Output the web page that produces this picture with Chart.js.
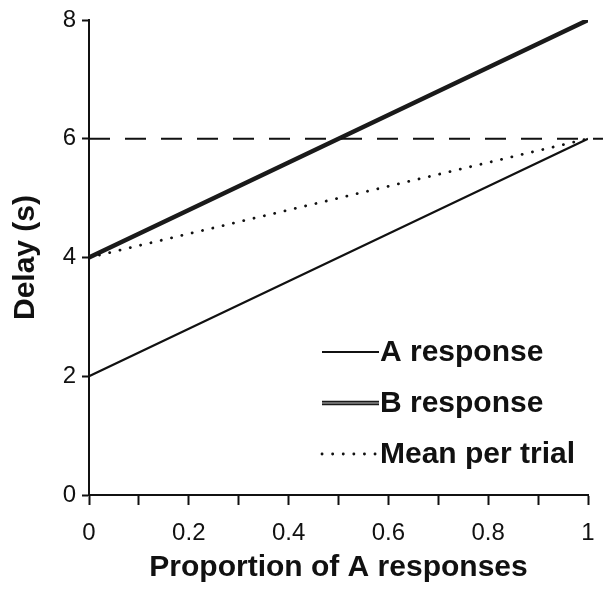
<!DOCTYPE html>
<html>
<head>
<meta charset="utf-8">
<title>Delay vs proportion of A responses</title>
<script src="https://cdn.jsdelivr.net/npm/chart.js@4/dist/chart.umd.min.js"></script>
<style>
  html, body { margin: 0; padding: 0; background: #fff; }
  #wrap { width: 603px; height: 590px; position: relative; }
</style>
</head>
<body>
<div id="wrap"><canvas id="delayChart"></canvas></div>
<script>
  // Proportion of A responses and the resulting delays (s)
  const proportions = [0, 0.2, 0.4, 0.6, 0.8, 1];
  const delayA = [2, 2.8, 3.6, 4.4, 5.2, 6];
  const delayB = [4, 4.8, 5.6, 6.4, 7.2, 8];
  const meanPerTrial = [4, 4.4, 4.8, 5.2, 5.6, 6];
  const referenceDelay = 6;
  const legendLabels = ['A response', 'B response', 'Mean per trial'];

  const FONT = "'Liberation Sans', Arial, Helvetica, sans-serif";
  const INK = '#111';

  const pts = (ys) => proportions.map((x, i) => ({ x, y: ys[i] }));

  // Small in-plot legend, lower right, drawn from the dataset styles
  const insideLegend = {
    id: 'insideLegend',
    afterDraw(chart) {
      const { ctx, chartArea } = chart;
      const entries = chart.data.datasets
        .filter(d => d.legendOrder !== undefined)
        .sort((a, b) => a.legendOrder - b.legendOrder);
      const x0 = chartArea.left + 233;
      const lineLen = 57;
      let y = chartArea.top + 332;
      ctx.save();
      ctx.font = `bold 30px ${FONT}`;
      ctx.textBaseline = 'middle';
      ctx.fillStyle = INK;
      entries.forEach(d => {
        const layers = [d].concat(chart.data.datasets.filter(o => o.overlayOf === d.label));
        layers.forEach(l => {
          ctx.beginPath();
          ctx.strokeStyle = l.borderColor;
          ctx.lineWidth = l.borderWidth;
          ctx.lineCap = l.borderCapStyle || 'butt';
          ctx.setLineDash(l.borderDash || []);
          ctx.moveTo(x0, y);
          ctx.lineTo(x0 + lineLen, y);
          ctx.stroke();
        });
        ctx.setLineDash([]);
        ctx.fillText(d.label, x0 + lineLen + 1, y + 1);
        y += 51;
      });
      ctx.restore();
    }
  };

  new Chart(document.getElementById('delayChart'), {
    type: 'line',
    data: {
      datasets: [
        {
          label: 'ref',
          data: [{ x: 0, y: referenceDelay }, { x: 1.03, y: referenceDelay }],
          borderColor: INK,
          borderWidth: 2,
          borderDash: [21, 15],
          clip: false
        },
        {
          label: legendLabels[2],
          legendOrder: 2,
          data: pts(meanPerTrial),
          borderColor: INK,
          borderWidth: 2.8,
          borderDash: [0.1, 10.5],
          borderCapStyle: 'round'
        },
        {
          label: legendLabels[0],
          legendOrder: 0,
          data: pts(delayA),
          borderColor: INK,
          borderWidth: 2.2
        },
        {
          label: legendLabels[1],
          legendOrder: 1,
          data: pts(delayB),
          borderColor: '#1a1a1a',
          borderWidth: 4.5
        },
        {
          label: 'B core',
          overlayOf: legendLabels[1],
          data: pts(delayB),
          borderColor: '#8a8a8a',
          borderWidth: 1.4
        }
      ]
    },
    options: {
      responsive: true,
      maintainAspectRatio: false,
      animation: false,
      layout: { padding: { top: 20, right: 15, left: 0, bottom: 0 } },
      elements: { point: { radius: 0, hoverRadius: 0 }, line: { tension: 0 } },
      plugins: { legend: { display: false }, tooltip: { enabled: false } },
      scales: {
        x: {
          type: 'linear',
          min: 0,
          max: 1,
          afterFit: (s) => {
            s.height = 95;
            s.paddingLeft = 0;
            s.paddingRight = 0;
          },
          border: { display: true, color: INK, width: 2 },
          grid: { display: true, drawOnChartArea: false, drawTicks: true, tickLength: 10, tickWidth: 2, tickColor: INK },
          ticks: {
            stepSize: 0.1,
            color: INK,
            padding: 14,
            maxRotation: 0,
            autoSkip: false,
            font: { family: FONT, size: 24 },
            callback: (v) => {
              const r = Math.round(v * 10);
              return r % 2 === 0 ? String(r / 10) : '';
            }
          },
          title: {
            display: true,
            text: 'Proportion of A responses',
            color: INK,
            font: { family: FONT, size: 30, weight: 'bold' },
            padding: { top: 7 }
          }
        },
        y: {
          min: 0,
          max: 8,
          afterFit: (s) => {
            s.width = 89;
            s.paddingTop = 0;
            s.paddingBottom = 0;
          },
          border: { display: true, color: INK, width: 2 },
          grid: { display: true, drawOnChartArea: false, drawTicks: true, tickLength: 7, tickWidth: 2, tickColor: INK },
          ticks: {
            stepSize: 2,
            color: INK,
            padding: 6,
            font: { family: FONT, size: 24 }
          },
          title: {
            display: true,
            text: 'Delay (s)',
            color: INK,
            font: { family: FONT, size: 30, weight: 'bold' },
            padding: { top: 8, bottom: 0 }
          }
        }
      }
    },
    plugins: [insideLegend]
  });
</script>
</body>
</html>
